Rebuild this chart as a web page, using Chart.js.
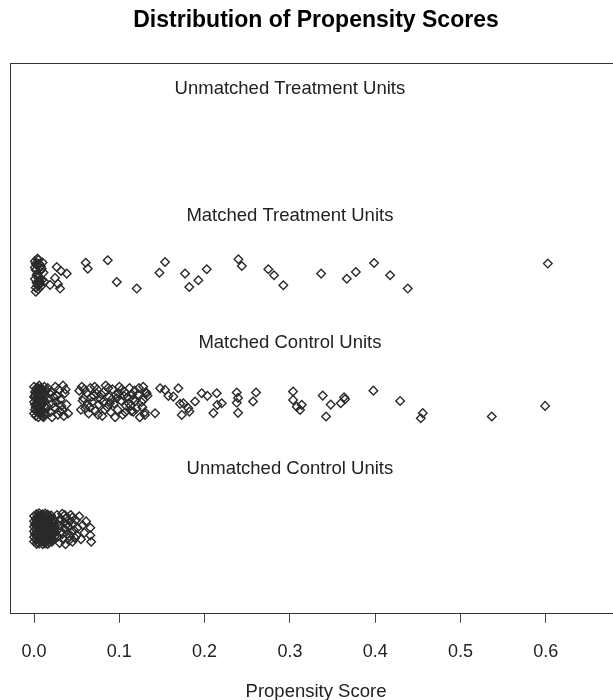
<!DOCTYPE html>
<html>
<head>
<meta charset="utf-8">
<title>Distribution of Propensity Scores</title>
<script src="https://cdn.jsdelivr.net/npm/chart.js@4.4.1/dist/chart.umd.min.js"></script>
<style>
  html, body { margin: 0; padding: 0; background: #fff; overflow: hidden; }
  canvas { display: block; }
</style>
</head>
<body>
<canvas id="psChart" width="632" height="700"></canvas>
<script>
// x tick marks on the propensity axis
const tickVals = [0, 0.1, 0.2, 0.3, 0.4, 0.5, 0.6];

// group captions, top to bottom, and the row they sit on
const rowLabels = ['Unmatched Treatment Units', 'Matched Treatment Units', 'Matched Control Units', 'Unmatched Control Units'];
const rowLabelY = [4.48, 3.48, 2.48, 1.48];
const labelX = 0.3;

// [propensity score, jittered row]
const unmatchedTreatment = [];

const matchedTreatment = [
  [0.001, 3.12], [0.003, 3.09], [0.005, 3.13], [0.002, 3.05], [0.006, 3.10], [0.008, 3.08], [0.004, 3.02],
  [0.001, 2.98], [0.007, 3.04], [0.003, 2.95], [0.009, 3.06], [0.002, 2.91], [0.005, 2.99], [0.004, 2.93],
  [0.006, 2.96], [0.001, 3.07], [0.008, 2.92], [0.003, 3.01], [0.002, 2.88], [0.005, 2.90], [0.007, 2.94],
  [0.010, 3.11], [0.004, 3.14], [0.002, 3.10], [0.006, 2.97], [0.009, 2.97], [0.012, 2.96], [0.011, 3.03],
  [0.0266, 3.074], [0.0317, 3.043], [0.0383, 3.022], [0.0246, 2.988], [0.0281, 2.941], [0.0305, 2.904],
  [0.0188, 2.933], [0.0606, 3.108], [0.063, 3.061], [0.0864, 3.127], [0.097, 2.956], [0.1204, 2.904],
  [0.147, 3.029], [0.1536, 3.113], [0.177, 3.022], [0.182, 2.917], [0.1927, 2.970], [0.2025, 3.056],
  [0.2396, 3.135], [0.2436, 3.082], [0.2747, 3.056], [0.2814, 3.009], [0.2923, 2.930], [0.3366, 3.022],
  [0.3667, 2.982], [0.3773, 3.035], [0.3987, 3.106], [0.4175, 3.009], [0.4382, 2.904], [0.6024, 3.101]
];

const matchedControl = [
  // near-zero block
  [0.000, 2.13], [0.003, 2.12], [0.006, 2.14], [0.009, 2.11], [0.012, 2.13], [0.001, 2.09], [0.004, 2.07],
  [0.007, 2.10], [0.010, 2.08], [0.013, 2.06], [0.002, 2.04], [0.005, 2.02], [0.008, 2.05], [0.011, 2.03],
  [0.000, 2.01], [0.003, 1.99], [0.006, 1.97], [0.009, 2.00], [0.012, 1.98], [0.001, 1.95], [0.004, 1.93],
  [0.007, 1.96], [0.010, 1.94], [0.013, 1.92], [0.002, 1.90], [0.005, 1.89], [0.008, 1.91], [0.011, 1.89],
  [0.000, 1.92], [0.014, 2.10], [0.001, 2.06], [0.006, 2.11], [0.009, 1.95], [0.004, 2.10], [0.012, 2.02],
  [0.002, 1.97], [0.007, 2.01], [0.010, 1.90], [0.005, 2.12], [0.013, 1.97], [0.002, 2.08], [0.008, 2.12],
  [0.011, 2.07], [0.005, 2.04], [0.000, 2.05], [0.010, 2.00], [0.003, 1.94], [0.007, 1.93], [0.012, 1.91],
  [0.001, 1.99], [0.009, 2.03], [0.006, 1.92], [0.004, 2.00], [0.011, 2.10], [0.008, 1.98],
  // 0.015 - 0.04
  [0.016, 2.12], [0.020, 2.09], [0.025, 2.13], [0.029, 2.11], [0.034, 2.14], [0.017, 2.04], [0.022, 2.00],
  [0.027, 2.06], [0.031, 2.03], [0.036, 2.08], [0.015, 1.96], [0.019, 1.93], [0.024, 1.97], [0.028, 1.91],
  [0.033, 1.95], [0.038, 1.99], [0.040, 1.92], [0.021, 1.89], [0.026, 2.01], [0.030, 1.94], [0.035, 1.90],
  [0.018, 2.08], [0.023, 2.05], [0.032, 1.98], [0.037, 2.11],
  // 0.05 - 0.135
  [0.053, 2.10], [0.056, 2.13], [0.058, 2.04], [0.060, 1.96], [0.062, 2.08], [0.064, 1.92], [0.066, 2.12],
  [0.068, 2.01], [0.070, 2.06], [0.072, 1.94], [0.074, 2.11], [0.076, 1.99], [0.078, 2.03], [0.080, 1.90],
  [0.082, 2.09], [0.084, 2.14], [0.086, 1.97], [0.088, 2.05], [0.090, 1.93], [0.092, 2.11], [0.094, 2.00],
  [0.096, 2.07], [0.098, 1.95], [0.100, 2.13], [0.102, 2.02], [0.104, 1.91], [0.106, 2.09], [0.108, 1.98],
  [0.110, 2.05], [0.112, 2.12], [0.114, 1.94], [0.116, 2.03], [0.118, 2.10], [0.120, 1.96], [0.122, 2.07],
  [0.124, 1.89], [0.126, 2.01], [0.128, 2.13], [0.130, 1.93], [0.133, 2.06], [0.055, 1.95], [0.059, 2.11],
  [0.063, 1.99], [0.067, 2.05], [0.071, 2.13], [0.075, 1.91], [0.079, 2.07], [0.083, 1.95], [0.087, 2.12],
  [0.091, 2.03], [0.095, 1.89], [0.099, 2.08], [0.103, 2.11], [0.107, 1.93], [0.111, 2.00], [0.115, 2.07],
  [0.119, 2.02], [0.123, 2.12], [0.127, 1.97], [0.131, 2.09], [0.057, 2.02], [0.065, 1.97], [0.073, 2.08],
  [0.081, 2.01], [0.089, 2.00], [0.097, 2.04], [0.105, 2.06], [0.113, 1.98],
  // tail
  [0.128, 2.027], [0.132, 2.080], [0.1164, 1.935], [0.130, 1.909], [0.1419, 1.922],
  [0.1478, 2.119], [0.1536, 2.106], [0.1575, 2.059], [0.1633, 2.053], [0.1692, 2.119], [0.1712, 1.996],
  [0.1751, 2.001], [0.1809, 1.962], [0.1821, 1.935], [0.1732, 1.909], [0.1888, 2.014], [0.1966, 2.080],
  [0.2032, 2.059], [0.2142, 2.080], [0.2149, 1.988], [0.2201, 2.001], [0.2103, 1.923], [0.2377, 2.085],
  [0.2392, 2.043], [0.2377, 2.004], [0.2392, 1.925], [0.2603, 2.085], [0.2568, 2.014], [0.3037, 2.093],
  [0.3037, 2.027], [0.3080, 1.974], [0.3139, 1.988], [0.3119, 1.948], [0.3385, 2.061], [0.3479, 1.990],
  [0.3424, 1.896], [0.3596, 2.001], [0.3635, 2.048], [0.3647, 2.033], [0.3979, 2.100], [0.4292, 2.019],
  [0.4558, 1.923], [0.4535, 1.883], [0.5367, 1.896], [0.5992, 1.980]
];

const unmatchedControl = [
  [0.003, 1.128], [0.006, 1.133], [0.010, 1.126], [0.013, 1.131], [0.016, 1.124],
  [0.000, 1.112], [0.004, 1.106], [0.007, 1.115], [0.011, 1.109], [0.014, 1.113], [0.018, 1.104], [0.020, 1.117],
  [0.002, 1.088], [0.005, 1.094], [0.009, 1.086], [0.012, 1.092], [0.016, 1.085], [0.019, 1.091], [0.023, 1.087],
  [0.000, 1.071], [0.003, 1.066], [0.007, 1.073], [0.010, 1.068], [0.014, 1.065], [0.017, 1.072], [0.021, 1.069], [0.024, 1.064],
  [0.001, 1.048], [0.005, 1.053], [0.008, 1.046], [0.012, 1.051], [0.015, 1.044], [0.019, 1.049], [0.022, 1.052],
  [0.000, 1.027], [0.003, 1.032], [0.006, 1.025], [0.010, 1.030], [0.013, 1.034], [0.017, 1.026], [0.020, 1.031], [0.024, 1.028],
  [0.002, 1.008], [0.005, 1.012], [0.009, 1.005], [0.012, 1.011], [0.015, 1.006], [0.019, 1.013], [0.022, 1.009],
  [0.000, 0.992], [0.004, 0.987], [0.007, 0.994], [0.011, 0.989], [0.014, 0.993], [0.017, 0.986], [0.021, 0.991], [0.024, 0.988],
  [0.001, 0.971], [0.005, 0.966], [0.008, 0.973], [0.012, 0.968], [0.016, 0.972], [0.019, 0.965], [0.023, 0.970],
  [0.000, 0.948], [0.003, 0.953], [0.007, 0.946], [0.010, 0.951], [0.013, 0.947], [0.017, 0.952], [0.020, 0.945], [0.024, 0.950],
  [0.002, 0.928], [0.005, 0.932], [0.009, 0.926], [0.012, 0.931], [0.015, 0.927], [0.019, 0.933], [0.022, 0.929],
  [0.000, 0.911], [0.004, 0.906], [0.007, 0.913], [0.011, 0.908], [0.014, 0.912], [0.018, 0.905], [0.021, 0.910],
  [0.003, 0.893], [0.006, 0.897], [0.010, 0.891], [0.013, 0.896], [0.016, 0.892],
  // thinning edge of the block
  [0.027, 1.12], [0.028, 0.95], [0.029, 1.04], [0.030, 0.90], [0.031, 1.09], [0.032, 0.99], [0.033, 1.13],
  [0.034, 0.93], [0.035, 1.06], [0.036, 1.01], [0.037, 0.89], [0.038, 1.10], [0.039, 0.97], [0.040, 1.03],
  [0.041, 0.92], [0.042, 1.07], [0.043, 1.12], [0.044, 0.98], [0.045, 0.91], [0.046, 1.05], [0.047, 1.00],
  [0.048, 0.94], [0.049, 1.08], [0.050, 0.96], [0.051, 1.02], [0.053, 1.11], [0.055, 0.93], [0.057, 1.04],
  [0.059, 0.98], [0.061, 1.07], [0.027, 1.00], [0.030, 1.07], [0.033, 0.97], [0.036, 1.12], [0.039, 1.05],
  [0.042, 0.95], [0.045, 1.10],
  [0.066, 1.02], [0.066, 0.96], [0.067, 0.91]
];

const toPts = rows => rows.map(([x, y]) => ({ x, y }));

const FONT = '"Liberation Sans", Arial, sans-serif';

// box around the plot plus the group captions
const frame = {
  id: 'frame',
  afterDatasetsDraw(chart) {
    const { ctx, chartArea: a, scales: { x, y } } = chart;
    ctx.save();
    ctx.strokeStyle = '#333';
    ctx.lineWidth = 1;
    ctx.strokeRect(Math.round(a.left) + 0.5, Math.round(a.top) + 0.5,
      Math.round(a.right - a.left), Math.round(a.bottom - a.top));
    ctx.fillStyle = '#222';
    ctx.font = '18.5px ' + FONT;
    ctx.textAlign = 'center';
    ctx.textBaseline = 'middle';
    rowLabels.forEach((t, i) => {
      ctx.fillText(t, x.getPixelForValue(labelX), y.getPixelForValue(rowLabelY[i]));
    });
    ctx.restore();
  }
};

const pointStyle = {
  pointStyle: 'rectRot',
  pointRadius: 4.3,
  pointHoverRadius: 4.3,
  borderWidth: 1.4,
  borderColor: '#2a2a2a',
  backgroundColor: 'rgba(0,0,0,0)'
};

new Chart(document.getElementById('psChart'), {
  type: 'scatter',
  data: {
    datasets: [
      { label: 'Unmatched Treatment Units', data: toPts(unmatchedTreatment), ...pointStyle },
      { label: 'Matched Treatment Units', data: toPts(matchedTreatment), ...pointStyle },
      { label: 'Matched Control Units', data: toPts(matchedControl), ...pointStyle },
      { label: 'Unmatched Control Units', data: toPts(unmatchedControl), ...pointStyle }
    ]
  },
  options: {
    responsive: false,
    animation: false,
    devicePixelRatio: 1,
    layout: { padding: { left: 10, right: 10, top: 0, bottom: 0 } },
    plugins: {
      legend: { display: false },
      tooltip: { enabled: false },
      title: {
        display: true,
        text: 'Distribution of Propensity Scores',
        fullSize: false,
        color: '#000',
        font: { family: FONT, size: 23, weight: 'bold' },
        padding: { top: 7, bottom: 28.4 }
      }
    },
    scales: {
      x: {
        type: 'linear',
        min: -0.0282,
        max: 0.6894,
        afterBuildTicks: s => { s.ticks = tickVals.map(v => ({ value: v })); },
        grid: { drawOnChartArea: false, drawTicks: true, tickLength: 10, color: '#444' },
        border: { display: false },
        ticks: {
          color: '#222',
          padding: 18,
          maxRotation: 0,
          font: { family: FONT, size: 18 },
          callback: v => Number(v).toFixed(1)
        },
        title: {
          display: true,
          text: 'Propensity Score',
          color: '#222',
          font: { family: FONT, size: 18.5 },
          padding: { top: 0, bottom: -2.6 }
        }
      },
      y: { type: 'linear', min: 0.35, max: 4.681, display: false }
    }
  },
  plugins: [frame]
});
</script>
</body>
</html>
